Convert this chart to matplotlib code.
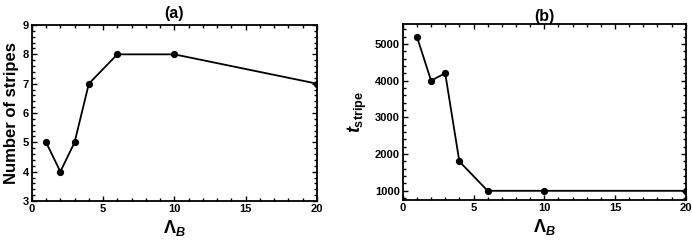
import numpy as np
import matplotlib
matplotlib.use('Agg')
import matplotlib.pyplot as plt
from matplotlib.ticker import MultipleLocator

plt.rcParams['font.family'] = ['Liberation Sans', 'DejaVu Sans']
plt.rcParams['font.weight'] = 'bold'
plt.rcParams['mathtext.fontset'] = 'custom'
plt.rcParams['mathtext.rm'] = 'Liberation Sans:bold'
plt.rcParams['mathtext.it'] = 'Liberation Sans:bold:italic'
plt.rcParams['mathtext.bf'] = 'Liberation Sans:bold'

# data
lambda_b = [1, 2, 3, 4, 6, 10, 20]
n_stripes = [5, 4, 5, 7, 8, 8, 7]
t_stripe = [5200, 4000, 4200, 1800, 1000, 1000, 1000]

fig = plt.figure(figsize=(6.92, 2.43), dpi=100)
ax1 = fig.add_axes([0.046, 0.173, 0.412, 0.724])
ax2 = fig.add_axes([0.582, 0.177, 0.409, 0.724])


def style_axes(ax):
    for sp in ax.spines.values():
        sp.set_linewidth(1.3)
    ax.tick_params(which='both', direction='in', top=True, right=True,
                   labelsize=8, width=1.0, pad=2)
    ax.tick_params(which='major', length=3.5)
    ax.tick_params(which='minor', length=2)
    for lab in ax.get_xticklabels() + ax.get_yticklabels():
        lab.set_fontweight('bold')
    ax.set_xlim(0, 20)
    ax.xaxis.set_major_locator(MultipleLocator(5))
    ax.xaxis.set_minor_locator(MultipleLocator(1))
    ax.set_xlabel(r'$\Lambda_B$', fontsize=13, labelpad=3)


ax1.plot(lambda_b, n_stripes, color='black', lw=1.3, marker='o', ms=4.2)
ax1.set_ylim(3, 9)
ax1.yaxis.set_major_locator(MultipleLocator(1))
ax1.yaxis.set_minor_locator(MultipleLocator(0.2))
ax1.set_ylabel('Number of stripes', fontsize=12, fontweight='bold', labelpad=3)
ax1.set_title('(a)', fontsize=11.5, fontweight='bold', pad=5)
style_axes(ax1)

ax2.plot(lambda_b, t_stripe, color='black', lw=1.3, marker='o', ms=4.2)
ax2.set_ylim(750, 5540)
ax2.yaxis.set_major_locator(MultipleLocator(1000))
ax2.yaxis.set_minor_locator(MultipleLocator(200))
ax2.set_ylabel(r'$t_{\mathrm{stripe}}$', fontsize=13, labelpad=4)
ax2.set_title('(b)', fontsize=11.5, fontweight='bold', pad=2)
style_axes(ax2)

fig.savefig('out.png', dpi=100)
